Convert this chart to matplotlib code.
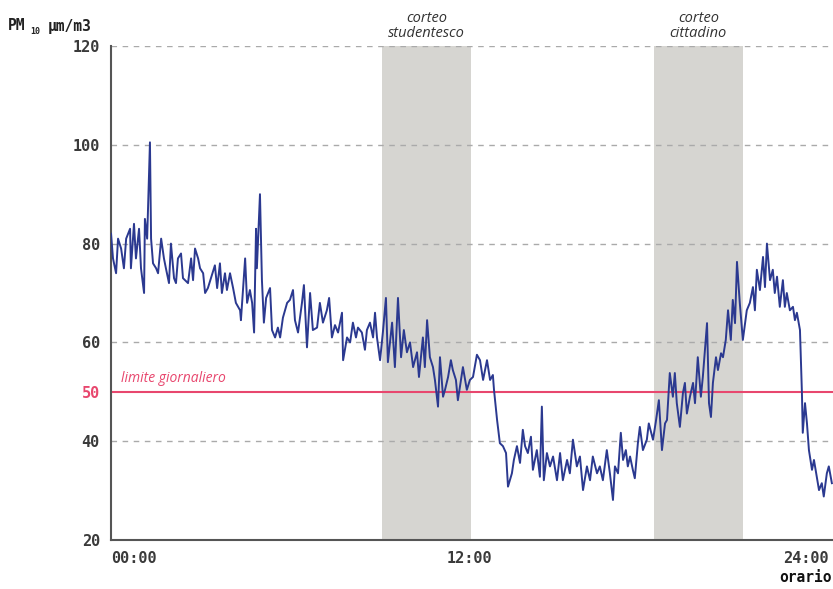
import matplotlib
matplotlib.use("Agg")
import matplotlib.pyplot as plt

# ore (hours from midnight) and PM10 readings
ore = [0.00, 0.07, 0.18, 0.25, 0.36, 0.46, 0.54, 0.68, 0.71, 0.82, 0.89, 1.00, 1.07, 1.18, 1.21, 1.29,
       1.39, 1.43, 1.50, 1.61, 1.68, 1.79, 1.89, 1.96, 2.07, 2.14, 2.25, 2.32, 2.39, 2.50, 2.57, 2.64,
       2.75, 2.86, 2.93, 3.00, 3.11, 3.18, 3.29, 3.36, 3.46, 3.57, 3.71, 3.79, 3.89, 3.96, 4.07, 4.14,
       4.25, 4.36, 4.46, 4.61, 4.64, 4.79, 4.86, 4.96, 5.04, 5.11, 5.18, 5.21, 5.32, 5.39, 5.46, 5.54,
       5.68, 5.75, 5.86, 5.96, 6.04, 6.14, 6.29, 6.39, 6.50, 6.57, 6.68, 6.82, 6.89, 7.00, 7.11, 7.21,
       7.36, 7.46, 7.57, 7.71, 7.79, 7.89, 8.00, 8.11, 8.25, 8.29, 8.43, 8.54, 8.64, 8.75, 8.82, 8.96,
       9.07, 9.14, 9.25, 9.36, 9.43, 9.50, 9.61, 9.71, 9.82, 9.89, 10.04, 10.14, 10.25, 10.36, 10.46, 10.57,
       10.68, 10.79, 10.93, 11.00, 11.14, 11.21, 11.29, 11.39, 11.50, 11.57, 11.68, 11.75, 11.86, 11.93, 12.04, 12.14,
       12.21, 12.32, 12.39, 12.57, 12.71, 12.82, 12.93, 13.07, 13.18, 13.29, 13.43, 13.54, 13.64, 13.68, 13.79, 13.89,
       14.00, 14.11, 14.18, 14.32, 14.39, 14.50, 14.61, 14.71, 14.79, 14.89, 15.00, 15.07, 15.21, 15.32, 15.39, 15.46,
       15.57, 15.68, 15.79, 15.93, 16.04, 16.14, 16.29, 16.39, 16.50, 16.64, 16.75, 16.86, 17.00, 17.11, 17.21, 17.36,
       17.46, 17.57, 17.71, 17.82, 17.93, 18.00, 18.11, 18.21, 18.29, 18.39, 18.46, 18.54, 18.64, 18.71, 18.82, 18.89,
       19.00, 19.14, 19.21, 19.36, 19.46, 19.57, 19.68, 19.79, 19.86, 19.96, 20.07, 20.14, 20.21, 20.32, 20.43, 20.50,
       20.57, 20.68, 20.79, 20.86, 20.96, 21.07, 21.14, 21.29, 21.36, 21.43, 21.50, 21.61, 21.68, 21.79, 21.86, 21.96,
       22.04, 22.14, 22.21, 22.29, 22.36, 22.46, 22.57, 22.71, 22.82, 22.93, 23.00, 23.07, 23.18, 23.29, 23.36, 23.43,
       23.54, 23.64, 23.71, 23.79, 23.89, 24.00, 24.07, 24.14, 24.25, 24.36, 24.43, 24.50, 24.61, 24.68, 24.71, 24.79,
       24.86, 24.93, 25.04, 25.11, 25.21, 25.29, 25.39, 25.46, 25.57, 25.64, 25.75]
pm10 = [82, 77, 74, 81, 79, 75, 81, 83, 75, 84, 77, 83, 75, 70, 85, 81,
        100.5, 81, 76, 75, 74, 81, 77, 75, 72, 80, 73, 72, 77, 78, 73, 72.6,
        72, 77, 72.6, 79, 77, 75, 74, 70, 71, 73, 75.6, 71, 76, 70, 74, 70.6,
        74, 71, 68, 66.5, 64.5, 77, 68, 70.6, 68, 62, 83, 75, 90, 72.6, 64, 69,
        71, 62.5, 61, 63, 61, 65, 68, 68.6, 70.6, 64.5, 62, 68, 71.6, 59, 70, 62.5,
        63, 68, 64, 66.5, 69, 61, 63.5, 62, 66, 56.4, 61, 60, 64, 61, 63, 62,
        58.5, 62.5, 64, 61, 66, 61, 56.4, 62, 69, 56, 64, 55, 69, 57, 62.5, 58,
        60, 55, 58, 53, 61, 55, 64.5, 57, 55, 52.4, 47, 57, 49, 50.4, 53, 56.4,
        54.4, 52.4, 48.3, 55, 50.4, 52.4, 53, 57.5, 56.4, 52.4, 56.4, 52.4, 53.4, 50.4, 44.3, 39.6,
        39, 37.6, 30.8, 33.5, 36.2, 39, 35.6, 42.3, 39, 37.6, 40.9, 34.2, 38.2, 32.8, 47, 32.1,
        37.6, 34.9, 36.9, 32.1, 37.6, 32.1, 36.2, 33.5, 40.3, 34.9, 36.9, 30.1, 34.9, 32.1, 36.9, 33.5,
        34.9, 32.1, 38.2, 33.5, 28.1, 34.9, 33.5, 41.7, 36.2, 38.2, 34.9, 36.9, 34.2, 32.5, 39.6, 42.9,
        38.2, 40.3, 43.6, 40.3, 43.9, 48.3, 38.2, 43.6, 44.3, 53.8, 49, 53.8, 47.7, 42.9, 49.8, 51.8,
        45.6, 49, 51.8, 47.7, 57, 49, 53, 63.9, 47.7, 44.9, 51.8, 57, 54.4, 57.8, 57, 60.5,
        66.5, 60.5, 68.6, 63.9, 76.3, 68, 60.5, 66.5, 68, 71.2, 66.5, 74.7, 70.6, 77.3, 71.2, 80,
        72.6, 74.7, 70, 73.3, 67.2, 72.6, 67.2, 70, 66.5, 67.2, 64.5, 66, 62.5, 49.8, 41.7, 47.7,
        43.6, 38.2, 34.2, 36.2, 32.8, 30.1, 31.5, 28.8, 33.5, 34.9, 31.5]

cortei = [(9.68, 12.86, "corteo\nstudentesco"), (19.39, 22.57, "corteo\ncittadino")]
limite = 50
yticks = [20, 40, 50, 60, 80, 100, 120]
xticks = [0, 12, 24]
xlabels = ["00:00", "12:00", "24:00"]

mono = "DejaVu Sans Mono"
blu = "#2b3990"
rosso = "#e8476e"

fig = plt.figure(figsize=(8.33, 5.89), dpi=100)
ax = fig.add_axes([0.1333, 0.0832, 0.8667, 0.8387])

for a, b, lab in cortei:
    ax.axvspan(a, b, color="#d6d5d1", lw=0, zorder=0)
    ax.text((a + b) / 2, 1.01, lab, transform=ax.get_xaxis_transform(), ha="center", va="bottom",
            fontsize=10.5, style="italic", family="Open Sans", color="#333333", linespacing=1.0)

for v in [40, 60, 80, 100, 120]:
    ax.axhline(v, color="#aaaaaa", lw=1, ls=(0, (4, 4)), zorder=1)

ax.axhline(limite, color=rosso, lw=1.5, zorder=2)
ax.text(0.35, limite + 1.2, "limite giornaliero", color=rosso, fontsize=10, style="italic",
        family="Open Sans", va="bottom", ha="left")

ax.plot(ore, pm10, color=blu, lw=1.4, zorder=3)

ax.set_xlim(0, 25.79)
ax.set_ylim(20, 120)
ax.set_yticks(yticks)
ax.set_xticks(xticks)
ax.set_xticklabels(xlabels, ha="left")
ax.tick_params(length=0, labelsize=11, colors="#3a3a3a")
ax.tick_params(axis="y", pad=8)
ax.tick_params(axis="x", pad=8)
for t in ax.get_yticklabels() + ax.get_xticklabels():
    t.set_fontfamily(mono)
    t.set_fontweight("bold")
for t in ax.get_yticklabels():
    if t.get_text() == "50":
        t.set_color(rosso)

for s in ["top", "right"]:
    ax.spines[s].set_visible(False)
for s in ["left", "bottom"]:
    ax.spines[s].set_color("#555555")
    ax.spines[s].set_linewidth(1.5)

fig.text(8 / 833, 1 - 26 / 589, "PM", family=mono, weight="bold", fontsize=10.5, color="#222222", va="center")
fig.text(30 / 833, 1 - 31 / 589, "10", family=mono, weight="bold", fontsize=6, color="#222222", va="center")
fig.text(48 / 833, 1 - 26 / 589, "µm/m3", family=mono, weight="bold", fontsize=10.5, color="#222222", va="center")
fig.text(832 / 833, 1 - 578 / 589, "orario", family=mono, weight="bold", fontsize=10.5, color="#111111",
         va="center", ha="right")

fig.savefig("out.png", dpi=100)
